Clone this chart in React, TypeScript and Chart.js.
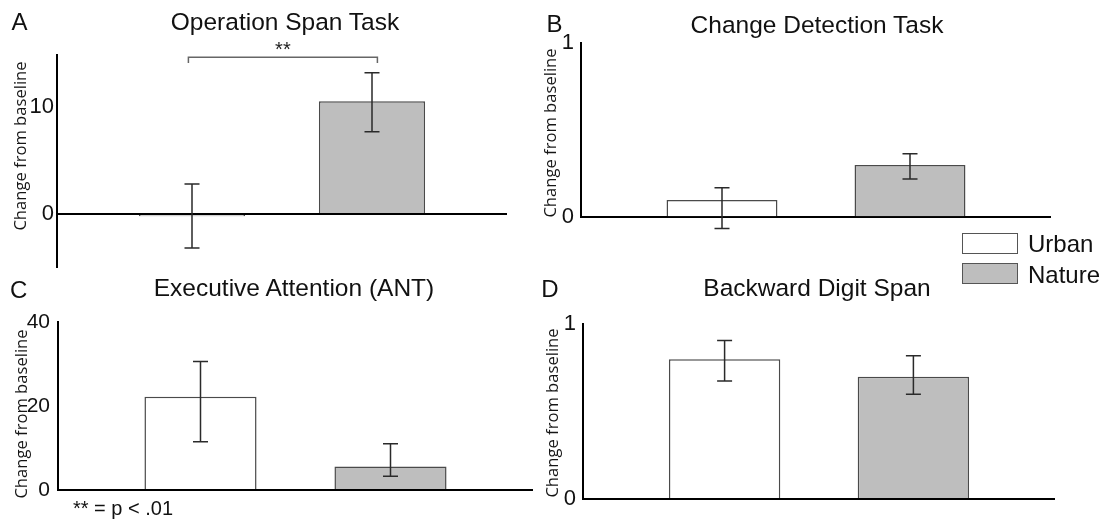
import React, { useEffect, useRef } from 'react';
import { Chart, registerables } from 'chart.js';

Chart.register(...registerables);

// ---------- data ----------
const categories = ['Urban', 'Nature'];
const categoryPositions = [1, 2];
const barFills = ['#ffffff', '#bebebe'];

const panelLetters = ['A', 'B', 'C', 'D'];
const panelTitles = ['Operation Span Task', 'Change Detection Task', 'Executive Attention (ANT)', 'Backward Digit Span'];
const yAxisTitle = 'Change from baseline';

const opSpanMeans = [-0.2, 10.5];
const opSpanErrUp = [3.0, 2.65];
const opSpanErrDown = [2.95, 2.85];
const opSpanTicks = [0, 10];
const opSpanRange = [-4.9, 14.8];

const changeDetMeans = [0.1, 0.3];
const changeDetErrUp = [0.07, 0.065];
const changeDetErrDown = [0.165, 0.08];
const changeDetTicks = [0, 1];
const changeDetRange = [0, 1];

const antMeans = [22.2, 5.6];
const antErrUp = [8.4, 5.4];
const antErrDown = [10.7, 2.3];
const antTicks = [0, 20, 40];
const antRange = [0, 40];

const digitMeans = [0.8, 0.7];
const digitErrUp = [0.107, 0.12];
const digitErrDown = [0.124, 0.1];
const digitTicks = [0, 1];
const digitRange = [0, 1];

const sigBracket = { from: 0.98, to: 2.03, y: 14.6, drop: 0.55, label: '**' };
const footnote = '** = p < .01';

// ---------- layout (pixels) ----------
type Layout = {
  box: number[];
  area: number[];
  yWidth: number;
  tickPad: number;
  tickSize: number;
};

const layouts: Layout[] = [
  { box: [0, 0, 545, 285], area: [57, 55, 507, 266.7], yWidth: 45, tickPad: 3, tickSize: 22 },
  { box: [540, 0, 560, 270], area: [581, 43.3, 1051, 217.3], yWidth: 30, tickPad: 7, tickSize: 22 },
  { box: [0, 290, 545, 238], area: [58, 322, 533, 490], yWidth: 45, tickPad: 8, tickSize: 21 },
  { box: [540, 290, 560, 238], area: [583, 324.3, 1055, 499], yWidth: 30, tickPad: 7, tickSize: 22 },
];

const SANS = '"Liberation Sans", Arial, Helvetica, sans-serif';
const LABEL_FONT = '"Open Sans", "Noto Sans", sans-serif';

type PanelProps = {
  layout: Layout;
  means: number[];
  up: number[];
  down: number[];
  ticks: number[];
  range: number[];
  bracket?: typeof sigBracket;
};

function Panel({ layout, means, up, down, ticks, range, bracket }: PanelProps) {
  const ref = useRef<HTMLCanvasElement>(null);

  useEffect(() => {
    if (!ref.current) return;
    const [bx, by, bw, bh] = layout.box;
    const [al, at, ar, ab] = layout.area;
    const padding = {
      left: al - bx - layout.yWidth,
      top: at - by,
      right: bx + bw - ar,
      bottom: by + bh - ab,
    };

    const overlay = {
      id: 'errorBarsAndBracket',
      afterDatasetsDraw(chart: any) {
        const { ctx } = chart;
        const ys = chart.scales.y;
        const xs = chart.scales.x;
        const meta = chart.getDatasetMeta(0);
        ctx.save();
        ctx.strokeStyle = '#2a2a2a';
        ctx.lineWidth = 1.5;
        const cap = 15;
        meta.data.forEach((bar: any, i: number) => {
          const x = bar.x;
          const top = ys.getPixelForValue(means[i] + up[i]);
          const bot = ys.getPixelForValue(means[i] - down[i]);
          ctx.beginPath();
          ctx.moveTo(x, top);
          ctx.lineTo(x, bot);
          ctx.moveTo(x - cap / 2, top);
          ctx.lineTo(x + cap / 2, top);
          ctx.moveTo(x - cap / 2, bot);
          ctx.lineTo(x + cap / 2, bot);
          ctx.stroke();
        });
        if (bracket) {
          const x1 = xs.getPixelForValue(bracket.from);
          const x2 = xs.getPixelForValue(bracket.to);
          const yb = ys.getPixelForValue(bracket.y);
          const yd = ys.getPixelForValue(bracket.y - bracket.drop);
          ctx.strokeStyle = '#666';
          ctx.lineWidth = 1.5;
          ctx.beginPath();
          ctx.moveTo(x1, yd);
          ctx.lineTo(x1, yb);
          ctx.lineTo(x2, yb);
          ctx.lineTo(x2, yd);
          ctx.stroke();
          ctx.fillStyle = '#222';
          ctx.font = `20px ${SANS}`;
          ctx.textAlign = 'center';
          ctx.textBaseline = 'alphabetic';
          ctx.fillText(bracket.label, (x1 + x2) / 2, yb - 1);
        }
        ctx.restore();
      },
    };

    const chart = new Chart(ref.current, {
      type: 'bar',
      data: {
        datasets: [
          {
            label: 'Change',
            data: categoryPositions.map((x, i) => ({ x, y: means[i] })) as any,
            backgroundColor: barFills,
            borderColor: '#4a4a4a',
            borderWidth: 1.5,
            barPercentage: 0.59,
            categoryPercentage: 1,
          },
        ],
      },
      options: {
        animation: false,
        responsive: true,
        maintainAspectRatio: false,
        layout: { padding },
        plugins: { legend: { display: false }, tooltip: { enabled: false }, title: { display: false } },
        events: [],
        scales: {
          x: {
            type: 'linear',
            display: false,
            offset: false,
            min: 0.25,
            max: 2.75,
            afterBuildTicks: (s: any) => {
              s.ticks = categoryPositions.map((v) => ({ value: v }));
            },
          },
          y: {
            type: 'linear',
            min: range[0],
            max: range[1],
            afterBuildTicks: (s: any) => {
              s.ticks = ticks.map((v) => ({ value: v }));
            },
            afterFit: (s: any) => {
              s.width = layout.yWidth;
            },
            grid: {
              drawTicks: false,
              lineWidth: 2,
              color: (c: any) => (c.tick && c.tick.value === 0 ? '#000' : 'rgba(0,0,0,0)'),
            },
            border: { display: true, color: '#000', width: 2 },
            ticks: {
              padding: layout.tickPad,
              color: '#111',
              font: { family: SANS, size: layout.tickSize },
            },
          },
        },
      },
      plugins: [overlay],
    } as any);
    return () => chart.destroy();
  }, []);

  const [bx, by, bw, bh] = layout.box;
  return (
    <div style={{ position: 'absolute', left: bx, top: by, width: bw, height: bh }}>
      <canvas ref={ref} />
    </div>
  );
}

type TextProps = {
  x: number;
  y: number;
  size: number;
  children: React.ReactNode;
  rotate?: boolean;
  family?: string;
  left?: boolean;
  color?: string;
};

function Txt({ x, y, size, children, rotate, family, left, color }: TextProps) {
  return (
    <div
      style={{
        position: 'absolute',
        left: x,
        top: y,
        transform: `translate(${left ? '0' : '-50%'}, -50%)${rotate ? ' rotate(-90deg)' : ''}`,
        fontSize: size,
        lineHeight: 1,
        whiteSpace: 'nowrap',
        fontFamily: family || SANS,
        color: color || '#111',
      }}
    >
      {children}
    </div>
  );
}

const letterPos = [
  [19.5, 21.7],
  [554.5, 23.5],
  [18.7, 290],
  [550, 289],
];
const titlePos = [
  [285, 21.7],
  [817, 25],
  [294, 288],
  [817, 288],
];
const yTitlePos = [
  [19.5, 146],
  [550, 132.5],
  [21, 414],
  [552, 412.5],
];

export default function App() {
  const legendBox = (top: number, fill: string) => (
    <div
      style={{
        position: 'absolute',
        left: 962,
        top,
        width: 54,
        height: 19,
        border: '1.5px solid #555',
        background: fill,
      }}
    />
  );
  return (
    <div
      style={{
        position: 'fixed',
        left: 0,
        top: 0,
        width: 1107,
        height: 528,
        background: '#fff',
        overflow: 'hidden',
        fontFamily: SANS,
      }}
    >
      <Panel layout={layouts[0]} means={opSpanMeans} up={opSpanErrUp} down={opSpanErrDown} ticks={opSpanTicks} range={opSpanRange} bracket={sigBracket} />
      <Panel layout={layouts[1]} means={changeDetMeans} up={changeDetErrUp} down={changeDetErrDown} ticks={changeDetTicks} range={changeDetRange} />
      <Panel layout={layouts[2]} means={antMeans} up={antErrUp} down={antErrDown} ticks={antTicks} range={antRange} />
      <Panel layout={layouts[3]} means={digitMeans} up={digitErrUp} down={digitErrDown} ticks={digitTicks} range={digitRange} />

      {panelLetters.map((l, i) => (
        <Txt key={'l' + i} x={letterPos[i][0]} y={letterPos[i][1]} size={24}>
          {l}
        </Txt>
      ))}
      {panelTitles.map((t, i) => (
        <Txt key={'t' + i} x={titlePos[i][0]} y={titlePos[i][1]} size={24.5}>
          {t}
        </Txt>
      ))}
      {yTitlePos.map((p, i) => (
        <Txt key={'y' + i} x={p[0]} y={p[1]} size={16.6} rotate family={LABEL_FONT} color="#151515">
          {yAxisTitle}
        </Txt>
      ))}

      {legendBox(233, barFills[0])}
      {legendBox(263, barFills[1])}
      <Txt x={1028} y={244} size={24} left>
        {categories[0]}
      </Txt>
      <Txt x={1028} y={274.5} size={24} left>
        {categories[1]}
      </Txt>

      <Txt x={73} y={508} size={20} left>
        {footnote}
      </Txt>
    </div>
  );
}
